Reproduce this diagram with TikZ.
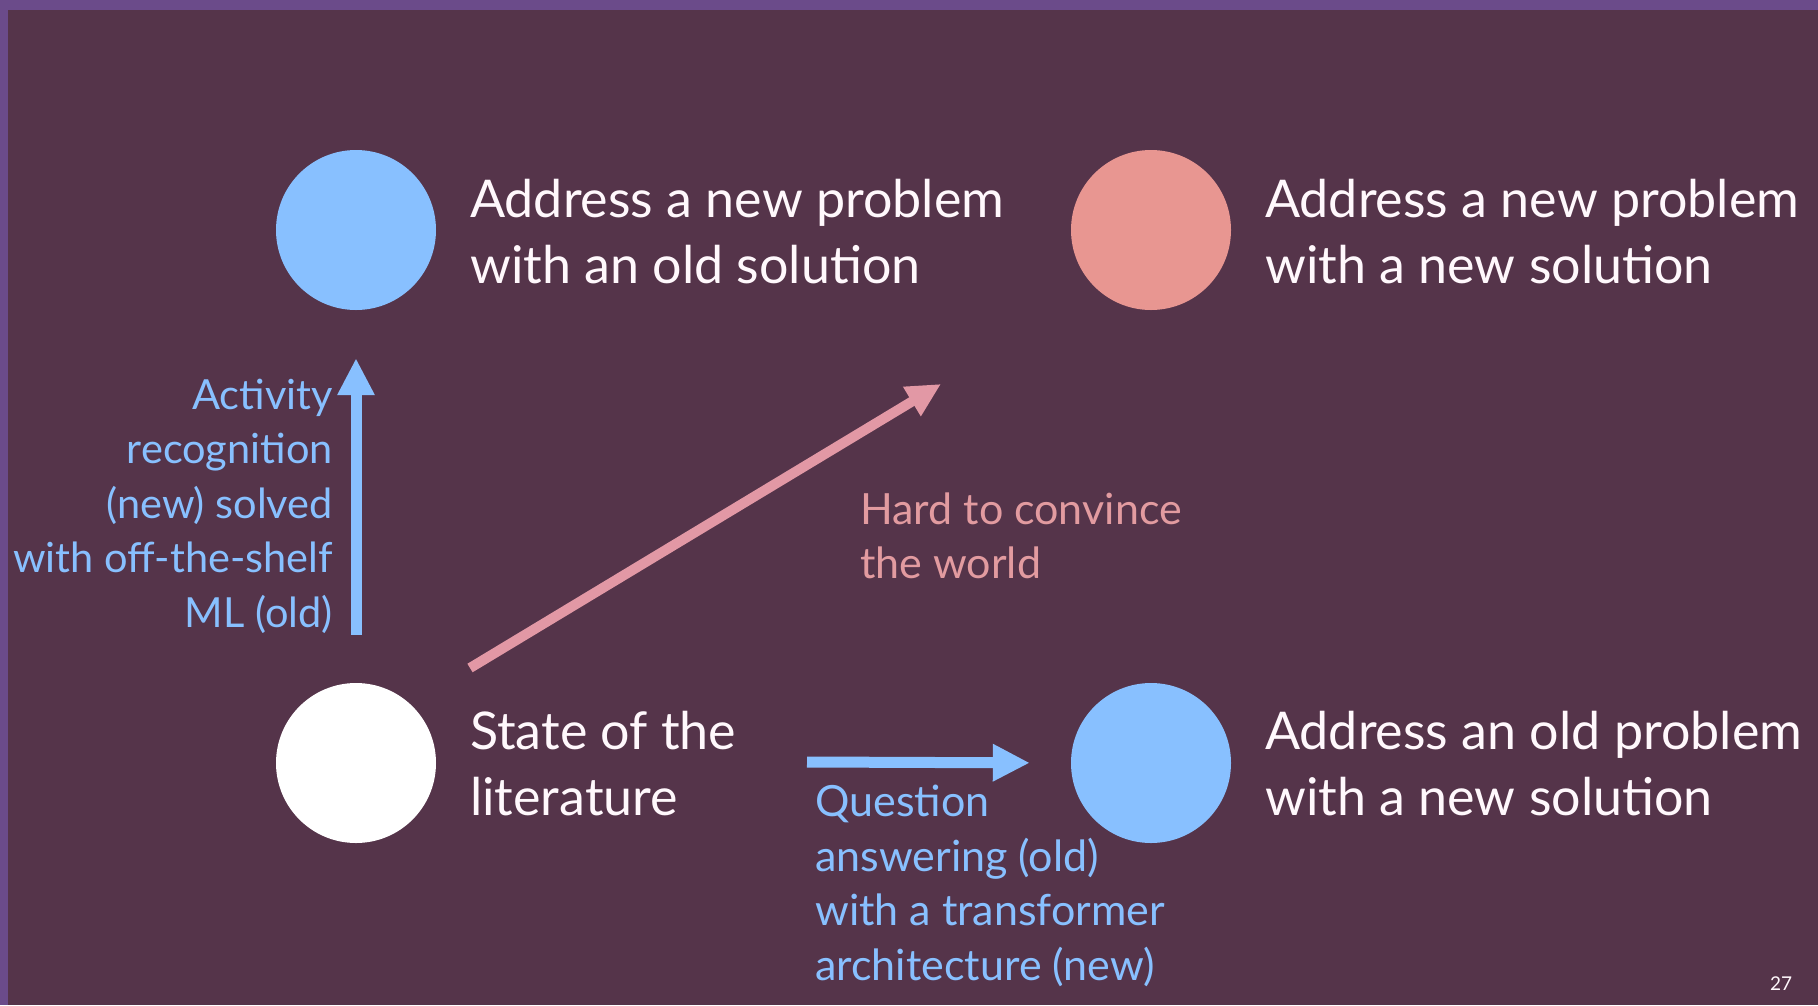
\documentclass[tikz,border=0pt]{standalone}
\usepackage{fontspec}
\setmainfont{Lato}
\usetikzlibrary{arrows.meta}
\definecolor{frame}{RGB}{107,75,138}
\definecolor{slide}{RGB}{85,52,74}
\definecolor{skyblue}{RGB}{136,192,255}
\definecolor{salmon}{RGB}{232,150,145}
\definecolor{rosearrow}{RGB}{226,152,165}
\definecolor{rosetext}{RGB}{226,155,160}
\definecolor{softwhite}{RGB}{255,248,252}
\tikzset{
  dot/.style={circle, minimum size=160pt, inner sep=0pt},
  headline/.style={text=softwhite, anchor=west, inner sep=0pt, align=left,
    font=\fontsize{52}{66}\selectfont},
  note/.style={inner sep=0pt, font=\fontsize{43}{54.5}\selectfont},
  fat arrow/.style={line width=11pt, -{Triangle[length=37pt,width=35pt]}},
}
\begin{document}
\begin{tikzpicture}[x=1pt,y=-1pt]
% slide frame and background
\fill[frame] (0,0) rectangle (1818,1005);
\fill[slide] (8,10) rectangle (1818,1005);
\useasboundingbox (0,0) rectangle (1818,1005);

% the four quadrant dots
\node[dot, fill=skyblue]  (oldsol) at (356,230) {};
\node[dot, fill=salmon]   (newsol) at (1151,230) {};
\node[dot, fill=white]    (lit)    at (356,763) {};
\node[dot, fill=skyblue]  (oldprob) at (1151,763) {};

% captions beside the dots
\node[headline] (toldsol) at (470,232) {Address a new problem\\with an old solution};
\node[headline] (tnewsol) at (1265,232) {Address a new problem\\with a new solution};
\node[headline] (tlit) at (470,764) {State of the\\literature};
\node[headline] (toldprob) at (1265,764) {Address an old problem\\with a new solution};

% upward path: new problem, old solution
\draw[fat arrow, skyblue, shorten <=48pt, shorten >=48pt] (lit.north) -- (oldsol.south);
\node[note, text=skyblue, align=right, anchor=east, font=\fontsize{41.5}{54.5}\selectfont] (tact) at (333,506)
  {Activity\\recognition\\(new) solved\\with off-the-shelf\\ML (old)};

% sideways path: old problem, new solution
\coordinate (qstart) at (807,762);
\draw[fat arrow, skyblue, shorten >=41pt] (qstart) -- (oldprob.west);
\node[note, text=skyblue, align=left, anchor=west] (tqa) at (815,886)
  {Question\\answering (old)\\with a transformer\\architecture (new)};

% diagonal path: new problem, new solution
\coordinate (hstart) at (470,668);
\coordinate (hend) at (941,384);
\draw[rosearrow, line width=10pt, -{Triangle[length=34pt,width=32pt]}] (hstart) -- (hend);
\node[note, text=rosetext, align=left, anchor=west] (thard) at (860,536)
  {Hard to convince\\the world};

% slide number
\node[text=softwhite, inner sep=0pt, font=\fontsize{19}{22}\selectfont] (pageno) at (1781,984) {27};
\end{tikzpicture}
\end{document}
